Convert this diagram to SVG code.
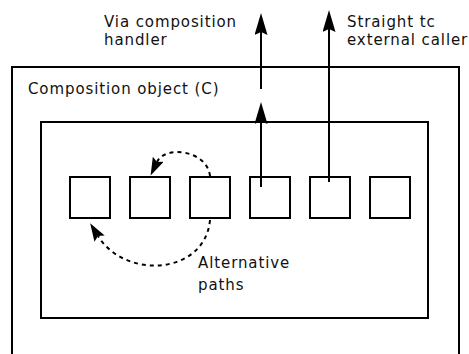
<svg xmlns="http://www.w3.org/2000/svg" width="469" height="354" viewBox="0 0 469 354">
<style>
.frame{fill:none;stroke:#000;stroke-width:2}
.box{fill:#fff;stroke:#000;stroke-width:2}
.wire{fill:none;stroke:#000;stroke-width:2}
.dash{fill:none;stroke:#000;stroke-width:2;stroke-dasharray:4 4}
text{font-family:"DejaVu Sans",sans-serif;font-size:15px;letter-spacing:0.9px;fill:#111}
</style>
<defs>
<marker id="ah" viewBox="0 0 22 13" refX="3" refY="6.5" markerWidth="22" markerHeight="13" markerUnits="userSpaceOnUse" orient="auto">
<path d="M0,0 L22,6.5 L0,13 L3,6.5 z" fill="#000"/>
</marker>
<marker id="ahs" viewBox="0 0 18 12" refX="3" refY="6" markerWidth="18" markerHeight="12" markerUnits="userSpaceOnUse" orient="auto">
<path d="M0,0 L18,6 L0,12 L3,6 z" fill="#000"/>
</marker>
</defs>
<g id="composition">
<rect class="frame" x="12" y="67" width="447" height="300"/>
<text x="28" y="94">Composition object (C)</text>
</g>
<g id="inner">
<rect class="frame" x="41" y="122" width="387" height="196"/>
</g>
<g id="n1"><rect class="box" x="70" y="177" width="40" height="41"/></g>
<g id="n2"><rect class="box" x="130" y="177" width="40" height="41"/></g>
<g id="n3"><rect class="box" x="190" y="177" width="40" height="41"/></g>
<g id="n4"><rect class="box" x="250" y="177" width="40" height="41"/></g>
<g id="n5"><rect class="box" x="310" y="177" width="40" height="41"/></g>
<g id="n6"><rect class="box" x="370" y="177" width="40" height="41"/></g>
<g id="connectors">
<line class="wire" x1="261" y1="187" x2="261" y2="121" marker-end="url(#ah)"/>
<line class="wire" x1="261" y1="89" x2="261" y2="32" marker-end="url(#ah)"/>
<line class="wire" x1="329" y1="182" x2="329" y2="29" marker-end="url(#ah)"/>
<path class="dash" d="M210,176 C207,150 165,145 157,162" marker-end="url(#ahs)"/>
<path class="dash" d="M210,220 C205,275 125,280 98,236" marker-end="url(#ahs)"/>
</g>
<g id="labels">
<text x="104" y="27">Via composition</text>
<text x="104" y="44.5">handler</text>
<text x="347" y="27">Straight tc</text>
<text x="347" y="44.5">external caller</text>
<text x="198" y="268">Alternative</text>
<text x="198" y="290">paths</text>
</g>
</svg>
